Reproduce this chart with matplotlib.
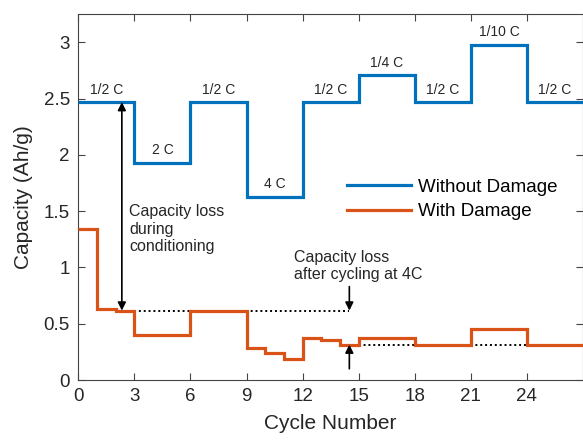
import numpy as np
import matplotlib.pyplot as plt

# cycle boundaries and capacities (Ah/g)
blue_edges = [0, 3, 6, 9, 12, 15, 18, 21, 24, 27]
blue_cap = [2.47, 1.93, 2.47, 1.63, 2.47, 2.71, 2.47, 2.98, 2.47]
rate_labels = ['1/2 C', '2 C', '1/2 C', '4 C', '1/2 C', '1/4 C', '1/2 C', '1/10 C', '1/2 C']

orange_edges = [0, 1, 2, 3, 6, 9, 10, 11, 12, 13, 14, 15, 18, 21, 24, 27]
orange_cap = [1.34, 0.635, 0.617, 0.40, 0.617, 0.284, 0.244, 0.187,
              0.376, 0.355, 0.311, 0.37, 0.315, 0.455, 0.315]

blue = '#0072BD'
orange = '#D95319'
txt = '#262626'

plt.rcParams['font.family'] = ['Liberation Sans', 'DejaVu Sans']

fig = plt.figure(figsize=(5.83, 4.44), dpi=100)
ax = fig.add_axes([0.1343, 0.1441, 0.8657, 0.8237])

ax.stairs(blue_cap, blue_edges, color=blue, lw=2.3, baseline=None,
          label='Without Damage', zorder=3)
ax.stairs(orange_cap, orange_edges, color=orange, lw=2.3, baseline=None,
          label='With Damage', zorder=3)

# C-rate labels above each blue segment
for i, lab in enumerate(rate_labels):
    xc = (blue_edges[i] + blue_edges[i + 1]) / 2
    ax.annotate(lab, (xc, blue_cap[i]), xytext=(0, 4), textcoords='offset points',
                ha='center', va='bottom', fontsize=10, color=txt)

# capacity loss during conditioning
ax.annotate('', xy=(2.33, 2.47), xytext=(2.33, 0.617),
            arrowprops=dict(arrowstyle='<|-|>', color='k', lw=1.2,
                            shrinkA=0, shrinkB=0, mutation_scale=12))
ax.text(2.73, 1.56, 'Capacity loss\nduring\nconditioning', ha='left', va='top',
        fontsize=11.5, color=txt, linespacing=1.2)
ax.plot([3, 14.5], [0.61, 0.61], color='k', ls=(0, (1, 1.5)), lw=1.4, zorder=2)

# capacity loss after cycling at 4C
ax.annotate('', xy=(14.5, 0.617), xytext=(14.5, 0.83),
            arrowprops=dict(arrowstyle='-|>', color='k', lw=1.2,
                            shrinkA=0, shrinkB=0, mutation_scale=12))
ax.annotate('', xy=(14.5, 0.315), xytext=(14.5, 0.10),
            arrowprops=dict(arrowstyle='-|>', color='k', lw=1.2,
                            shrinkA=0, shrinkB=0, mutation_scale=12))
ax.plot([14.5, 24], [0.315, 0.315], color='k', ls=(0, (1, 1.5)), lw=1.4, zorder=2)
ax.text(11.53, 1.155, 'Capacity loss\nafter cycling at 4C', ha='left', va='top',
        fontsize=11.5, color=txt, linespacing=1.2)

ax.set_xlim(0, 27)
ax.set_ylim(0, 3.25)
ax.set_xticks(np.arange(0, 25, 3))
ax.set_yticks([0, 0.5, 1, 1.5, 2, 2.5, 3])
ax.set_yticklabels(['0', '0.5', '1', '1.5', '2', '2.5', '3'])
ax.tick_params(direction='in', top=True, right=True, length=5, width=0.8,
               labelsize=13.5, colors='#444444', labelcolor=txt, pad=6)
for s in ax.spines.values():
    s.set_color('#444444')
    s.set_linewidth(0.8)

ax.set_xlabel('Cycle Number', fontsize=15, color=txt, labelpad=6)
ax.set_ylabel('Capacity (Ah/g)', fontsize=15, color=txt, labelpad=8)

ax.legend(loc='upper left', bbox_to_anchor=(0.532, 0.551), frameon=False,
          fontsize=13.5, handlelength=3.4, handletextpad=0.4, labelspacing=0.4,
          borderpad=0, borderaxespad=0)

fig.savefig('out.png', dpi=100)
